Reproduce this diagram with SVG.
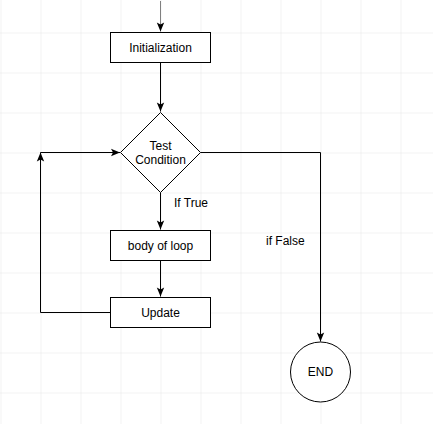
<svg xmlns="http://www.w3.org/2000/svg" width="433" height="424" viewBox="0 0 433 424">
<defs>
<pattern id="grid" x="0.5" y="32.5" width="40" height="40" patternUnits="userSpaceOnUse">
<path d="M0,0 H40 M0,0 V40" fill="none" stroke="#e6e6e6" stroke-width="1"/>
</pattern>
<marker id="arr" markerWidth="12" markerHeight="10" refX="10" refY="4" orient="auto" markerUnits="userSpaceOnUse" viewBox="0 0 12 8">
<path d="M1,0.3 L10,4 L1,7.7 L3,4 Z" fill="#000"/>
</marker>
</defs>
<style>
.box{fill:#fff;stroke:#000;stroke-width:1}
.edge{fill:none;stroke:#000;stroke-width:1}
.t{font-family:"Liberation Sans",Arial,sans-serif;font-size:12px;fill:#000;text-anchor:middle;dominant-baseline:central}
.lbl{font-family:"Liberation Sans",Arial,sans-serif;font-size:12px;fill:#000}
</style>
<rect width="433" height="424" fill="#fff"/>
<rect width="433" height="424" fill="url(#grid)"/>
<g id="connectors">
<path class="edge" d="M160.5,1 V31.5" stroke="#808080" style="stroke:#808080" marker-end="url(#arr)"/>
<path class="edge" d="M160.5,62.5 V111.5" marker-end="url(#arr)"/>
<path class="edge" d="M160.5,192.5 V229.5" marker-end="url(#arr)"/>
<path class="edge" d="M160.5,260.5 V296.5" marker-end="url(#arr)"/>
<path class="edge" d="M110.5,312.5 H40.5 V152.5" marker-end="url(#arr)"/>
<path class="edge" d="M40.5,152.5 H120" marker-end="url(#arr)"/>
<path class="edge" d="M200.5,152.5 H320.5 V341.5" marker-end="url(#arr)"/>
<text class="lbl" x="174" y="206.5">If True</text>
<text class="lbl" x="266" y="245">if False</text>
</g>
<g id="init">
<rect class="box" x="110.5" y="32.5" width="100" height="30"/>
<text class="t" x="160.5" y="47.5">Initialization</text>
</g>
<g id="test">
<path class="box" d="M160.5,112.5 L200.5,152.5 L160.5,192.5 L120.5,152.5 Z"/>
<text class="t" x="160.5" y="145.5">Test</text>
<text class="t" x="160.5" y="159.5">Condition</text>
</g>
<g id="body">
<rect class="box" x="110.5" y="230.5" width="100" height="30"/>
<text class="t" x="160.5" y="245.5">body of loop</text>
</g>
<g id="update">
<rect class="box" x="110.5" y="297.5" width="100" height="30"/>
<text class="t" x="160.5" y="312.5">Update</text>
</g>
<g id="end">
<circle class="box" cx="320.5" cy="372" r="30"/>
<text class="t" x="320.5" y="372">END</text>
</g>
</svg>
